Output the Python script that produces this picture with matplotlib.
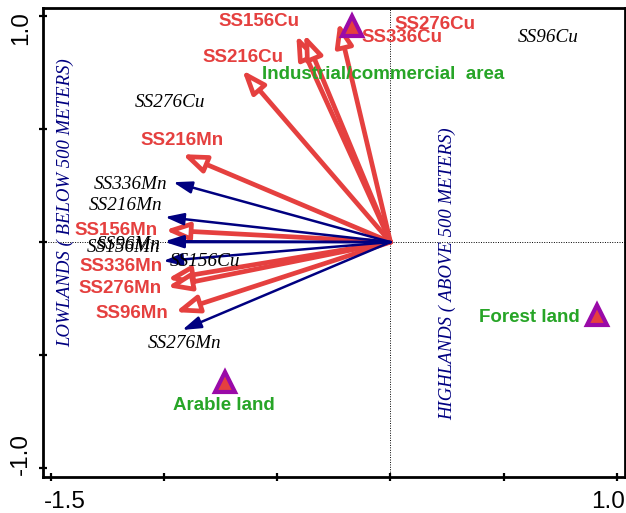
import numpy as np
import matplotlib
matplotlib.use("Agg")
import matplotlib.pyplot as plt
import matplotlib.transforms as mtransforms

# heavy metal vectors (red, bold) - arrow tips on axis 1 / axis 2
red_labels = ['SS156Cu', 'SS276Cu', 'SS336Cu', 'SS216Cu', 'SS216Mn',
              'SS156Mn', 'SS336Mn', 'SS276Mn', 'SS96Mn']
red_x = [-0.416, -0.381, -0.230, -0.655, -0.920, -0.996, -0.987, -0.987, -0.951]
red_y = [0.916, 0.920, 0.973, 0.761, 0.389, 0.053, -0.164, -0.199, -0.310]

# supplementary vectors (navy, thin)
blue_labels = ['SS336Mn', 'SS216Mn', 'SS96Mn', 'SS156Mn', 'SS156Cu', 'SS276Mn']
blue_x = [-0.960, -0.996, -0.996, -0.996, -1.004, -0.920]
blue_y = [0.265, 0.111, 0.000, 0.004, -0.084, -0.389]

# labels drawn without a vector
extra_labels = ['SS276Cu', 'SS96Cu']
extra_x = [-0.973, 0.699]
extra_y = [0.619, 0.907]

# land use centroids
site_labels = ['Industrial/commercial  area', 'Arable land', 'Forest land']
site_x = [-0.168, -0.730, 0.912]
site_y = [0.956, -0.618, -0.323]

RED = '#e5403f'
NAVY = '#000080'
GREEN = '#27a527'
PURPLE = '#9a0aa8'

# label offsets in pixels (layout only)
red_off = [(-37, 14), (131, 10), (64, -15), (1, 13), (0, 14),
           (-49, 0), (-46, 13), (-47, -1), (-43, -1)]
blue_off = [(-43, -2), (-39, 12), (-36, -2), (-41, -6), (42, 0), (2, -14)]
site_off = [(31, -48), (-1, -24), (-68, -2)]

fig = plt.figure(figsize=(6.26, 5.13), dpi=100)
ax = fig.add_axes([0.0687, 0.070, 0.9293, 0.914])
ax.set_xlim(-1.535, 1.035)
ax.set_ylim(-1.04, 1.035)

ax.axhline(0, color='black', lw=0.7, ls=(0, (1, 1.5)), zorder=1)
ax.axvline(0, color='black', lw=0.7, ls=(0, (1, 1.5)), zorder=1)

sans = 'Liberation Sans'
serif = 'Liberation Serif'

for lab, x, y, off in zip(red_labels, red_x, red_y, red_off):
    ax.annotate('', xy=(x, y), xytext=(0, 0),
                arrowprops=dict(arrowstyle='-|>,head_length=1.0,head_width=0.38',
                                mutation_scale=14, lw=3.4, edgecolor=RED,
                                facecolor='white', shrinkA=0, shrinkB=0),
                zorder=3)
    ax.annotate(lab, xy=(x, y), xytext=off, textcoords='offset pixels',
                ha='center', va='center', color=RED, fontsize=13.5,
                fontweight='bold', family=sans, zorder=6)

for lab, x, y, off in zip(blue_labels, blue_x, blue_y, blue_off):
    ax.annotate('', xy=(x, y), xytext=(0, 0),
                arrowprops=dict(arrowstyle='-|>,head_length=1.4,head_width=0.45',
                                mutation_scale=8, lw=1.8, color=NAVY,
                                shrinkA=0, shrinkB=0),
                zorder=4)
    ax.annotate(lab, xy=(x, y), xytext=off, textcoords='offset pixels',
                ha='center', va='center', color='black', fontsize=13.8,
                style='italic', family=serif, zorder=5)

for lab, x, y in zip(extra_labels, extra_x, extra_y):
    ax.text(x, y, lab, ha='center', va='center', color='black', fontsize=13.8,
            style='italic', family=serif, zorder=5)

for lab, x, y, off in zip(site_labels, site_x, site_y, site_off):
    ax.plot(x, y, marker='^', ms=15, mfc=RED, mec=PURPLE, mew=3, zorder=7)
    ax.annotate(lab, xy=(x, y), xytext=off, textcoords='offset pixels',
                ha='center', va='center', color=GREEN, fontsize=13.5,
                fontweight='bold', family=sans, zorder=6)

ax.text(-1.434, 0.173, 'LOWLANDS ( BELOW 500 METERS)', rotation=90,
        ha='center', va='center', color=NAVY, fontsize=13.5, style='italic',
        family=serif)
ax.text(0.25, -0.14, 'HIGHLANDS ( ABOVE 500 METERS)', rotation=90,
        ha='center', va='center', color=NAVY, fontsize=13.5, style='italic',
        family=serif)

ax.set_xticks(np.arange(-1.5, 1.01, 0.5))
ax.set_xticklabels(['-1.5', '', '', '', '', '1.0'], family=sans)
ax.set_yticks(np.arange(-1.0, 1.01, 0.5))
ax.set_yticklabels(['-1.0', '', '', '', '1.0'], family=sans, rotation=90,
                   va='center')
ax.tick_params(direction='inout', length=6, width=1.6, labelsize=17.5, pad=5)
ax.tick_params(axis='x', pad=7)
for sp in ax.spines.values():
    sp.set_linewidth(2)

# nudge the end labels inward like the original
x_shift = [14, 0, 0, 0, 0, -9]
y_shift = [14, 0, 0, 0, -12]
for lab, dx in zip(ax.get_xticklabels(), x_shift):
    lab.set_transform(lab.get_transform() +
                      mtransforms.ScaledTranslation(dx / 100, 0, fig.dpi_scale_trans))
for lab, dy in zip(ax.get_yticklabels(), y_shift):
    lab.set_transform(lab.get_transform() +
                      mtransforms.ScaledTranslation(0, dy / 100, fig.dpi_scale_trans))

fig.savefig('out.png', dpi=100)
